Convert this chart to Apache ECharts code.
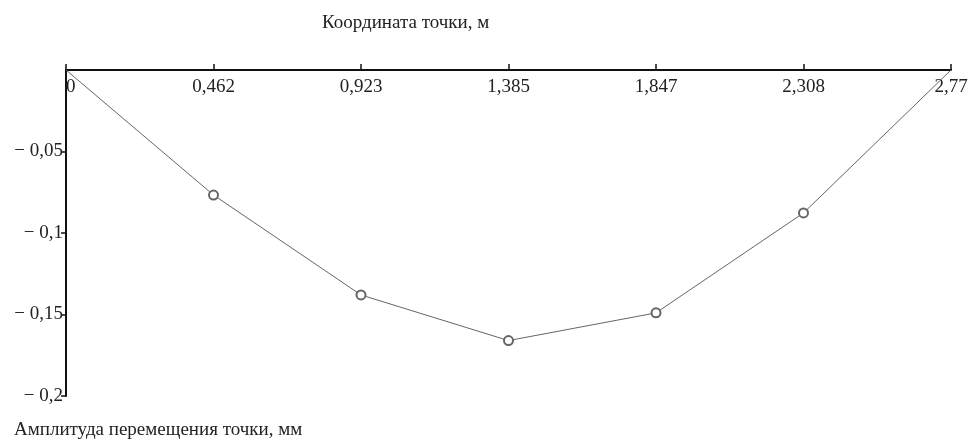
<!DOCTYPE html>
<html><head><meta charset="utf-8">
<script src="https://cdn.jsdelivr.net/npm/echarts@6/dist/echarts.min.js"></script>
<style>html,body{margin:0;padding:0;background:#fff}#c{width:975px;height:443px}</style>
</head><body><div id="c"></div>
<script>
const categories = ['0', '0,462', '0,923', '1,385', '1,847', '2,308', '2,77'];
const amplitude = [0, -0.0767, -0.138, -0.166, -0.149, -0.0877, 0];
const xTitle = 'Координата точки, м';
const yTitle = 'Амплитуда перемещения точки, мм';
const font = '"Liberation Serif", "DejaVu Serif", serif';

const last = amplitude.length - 1;
const chart = echarts.init(document.getElementById('c'));
chart.setOption({
  animation: false,
  backgroundColor: '#fff',
  grid: { left: 66, right: 24, top: 70, bottom: 47 },
  graphic: [
    { type: 'text', left: 322, top: 14, style: { text: xTitle, font: '19px ' + font, fill: '#222' } },
    { type: 'text', left: 14, top: 421, style: { text: yTitle, font: '19px ' + font, fill: '#222' } }
  ],
  xAxis: {
    type: 'category', position: 'top', boundaryGap: false, data: categories,
    axisLine: { onZero: false, lineStyle: { color: '#111', width: 2 } },
    axisTick: { show: true, length: 6, lineStyle: { color: '#111', width: 1.5 } },
    axisLabel: { inside: true, margin: 8, color: '#222', fontFamily: font, fontSize: 19, alignMinLabel: 'left' },
    splitLine: { show: false }
  },
  yAxis: {
    type: 'value', min: -0.2, max: 0, interval: 0.05,
    axisLine: { show: true, onZero: false, lineStyle: { color: '#111', width: 2 } },
    axisTick: { show: true, length: 5, lineStyle: { color: '#111', width: 1.5 } },
    axisLabel: {
      margin: 3, color: '#222', fontFamily: font, fontSize: 19, showMaxLabel: false,
      formatter: v => v === 0 ? '' : '− ' + String(Math.abs(+v.toFixed(2))).replace('.', ',')
    },
    splitLine: { show: false }
  },
  series: [{
    type: 'line',
    data: amplitude.map((v, i) => ({ value: v, symbol: (i === 0 || i === last) ? 'none' : 'emptyCircle' })),
    symbolSize: 9,
    lineStyle: { color: '#666', width: 1 },
    itemStyle: { color: '#666', borderColor: '#666', borderWidth: 1 }
  }]
});
</script></body></html>
